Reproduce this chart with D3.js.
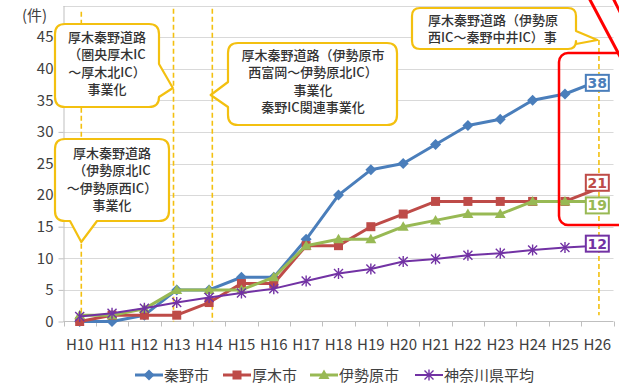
<!DOCTYPE html>
<html><head><meta charset="utf-8">
<script src="https://cdn.jsdelivr.net/npm/d3@7/dist/d3.min.js"></script>
<style>
html,body{margin:0;padding:0;background:#fff;}
svg{display:block;font-family:"Noto Sans CJK JP","Noto Sans",sans-serif;}
</style></head>
<body><svg id="c" width="619" height="384"></svg>
<script>
const years = [10,11,12,13,14,15,16,17,18,19,20,21,22,23,24,25,26];
const yearLabels = years.map(d => "H" + d);
const yTicks = [0,5,10,15,20,25,30,35,40,45];
const seriesNames = ["秦野市","厚木市","伊勢原市","神奈川県平均"];
const hadano  = [0,0,1,5,5,7,7,13,20,24,25,28,31,32,35,36,38];
const atsugi  = [0,1,1,1,3,6,6,12,12,15,17,19,19,19,19,19,21];
const isehara = [1,1,2,5,5,5,7,12,13,13,15,16,17,17,19,19,19];
const kanagawa = [0.8,1.3,2.1,3.0,3.8,4.5,5.2,6.4,7.6,8.3,9.5,9.9,10.5,10.8,11.3,11.7,12];
const eventYears = [10.05, 12.9, 14.1, 26.05];
const calloutTexts = [
  ["厚木秦野道路","（圏央厚木IC","～厚木北IC）","事業化"],
  ["厚木秦野道路","（伊勢原北IC","～伊勢原西IC）","事業化"],
  ["厚木秦野道路（伊勢原市","西富岡～伊勢原北IC）","事業化","秦野IC関連事業化"],
  ["厚木秦野道路（伊勢原","西IC～秦野中井IC）事"]
];

const svg = d3.select("#c");
const x = d3.scaleLinear().domain([9.5, 26.5]).range([63.5, 613.5]);
const y = d3.scaleLinear().domain([0, 50]).range([321.5, 5.5]);
const gold = "#F3C010";
const textCol = "#404040";

// gridlines
svg.append("g").selectAll("line").data(d3.range(5, 51, 5)).join("line")
  .attr("x1", x(9.5)).attr("x2", x(26.5))
  .attr("y1", d => Math.round(y(d)) + 0.5).attr("y2", d => Math.round(y(d)) + 0.5)
  .attr("stroke", "#d9d9d9").attr("stroke-width", 1);

// y axis
const yAxis = d3.axisLeft(y).tickValues(yTicks).tickSize(5).tickSizeOuter(0).tickPadding(6);
const gy = svg.append("g").attr("transform", `translate(${x(9.5)},0)`).call(yAxis);
gy.select(".domain").attr("stroke", "#bfbfbf");
gy.selectAll(".tick line").attr("stroke", "#bfbfbf");
gy.selectAll(".tick text").attr("font-size", 15).attr("fill", textCol)
  .attr("font-family", '"Noto Sans CJK JP",sans-serif').attr("x", -10);

// x axis
const gx = svg.append("g").attr("transform", `translate(0,${y(0)})`);
gx.append("line").attr("x1", x(9.5)).attr("x2", x(26.5)).attr("stroke", "#bfbfbf");
gx.selectAll("line.tk").data(d3.range(9.5, 27, 1)).join("line").attr("class","tk")
  .attr("x1", d => Math.round(x(d)) + 0.5).attr("x2", d => Math.round(x(d)) + 0.5)
  .attr("y1", 0).attr("y2", 5).attr("stroke", "#bfbfbf");
gx.selectAll("text").data(years).join("text")
  .attr("x", d => x(d)).attr("y", 28).attr("text-anchor", "middle")
  .attr("font-size", 15).attr("fill", textCol).text((d, i) => yearLabels[i]);

svg.append("text").attr("x", 22).attr("y", 21).attr("font-size", 15).attr("fill", textCol).text("(件)");

// event dashed lines
const dashTops = [y(49), y(49.5), y(49.5), 40];
const dashBottoms = [y(0), y(0), y(0), y(1)];
svg.append("g").selectAll("line").data(eventYears).join("line")
  .attr("x1", d => x(d)).attr("x2", d => x(d))
  .attr("y1", (d, i) => dashTops[i]).attr("y2", (d, i) => dashBottoms[i])
  .attr("stroke", gold).attr("stroke-width", 1.6).attr("stroke-dasharray", "5,3");

// series
const colors = ["#4A7EBB", "#BE4B48", "#98B954", "#7232A4"];
const widths = [3, 3, 3, 2];
const dataSets = [hadano, atsugi, isehara, kanagawa];
function marker(g, type, color) {
  if (type === 0) g.append("path").attr("d", "M0,-5.5L5.5,0L0,5.5L-5.5,0Z").attr("fill", color);
  else if (type === 1) g.append("rect").attr("x", -4.5).attr("y", -4.5).attr("width", 9).attr("height", 9).attr("fill", color);
  else if (type === 2) g.append("path").attr("d", "M0,-5.5L5.5,4L-5.5,4Z").attr("fill", color);
  else {
    g.append("path").attr("d", "M-4.5,-4.5L4.5,4.5M-4.5,4.5L4.5,-4.5M0,-5.5L0,5.5")
      .attr("stroke", color).attr("stroke-width", 1.4).attr("fill", "none");
  }
}
const line = d3.line().x((d, i) => x(years[i])).y(d => y(d));
dataSets.forEach((ds, si) => {
  const g = svg.append("g");
  g.append("path").attr("d", line(ds)).attr("fill", "none")
    .attr("stroke", colors[si]).attr("stroke-width", widths[si]).attr("stroke-linejoin", "round");
  ds.forEach((v, i) => {
    if (i === ds.length - 1) return;
    const m = g.append("g").attr("transform", `translate(${x(years[i])},${y(v)})`);
    marker(m, si, colors[si]);
  });
});

// red highlight rectangle
svg.append("rect").attr("x", 559).attr("y", 53).attr("width", 80).attr("height", 172)
  .attr("rx", 9).attr("fill", "none").attr("stroke", "#FF0000").attr("stroke-width", 2.5);
svg.append("line").attr("x1", 589).attr("y1", -2).attr("x2", 623).attr("y2", 62)
  .attr("stroke", "#FF0000").attr("stroke-width", 3);
svg.append("line").attr("x1", 613).attr("y1", -2).attr("x2", 623).attr("y2", 18)
  .attr("stroke", "#FF0000").attr("stroke-width", 3);

// end value labels
const labelOffsets = [1.5, -6, 4, -2];
dataSets.forEach((ds, si) => {
  const v = ds[ds.length - 1];
  const cx = x(26), cy = y(v) + labelOffsets[si];
  svg.append("rect").attr("x", cx - 11.5).attr("y", cy - 8).attr("width", 23).attr("height", 16)
    .attr("fill", "#fff").attr("stroke", colors[si]).attr("stroke-width", 2);
  svg.append("text").attr("x", cx).attr("y", cy + 5).attr("text-anchor", "middle")
    .attr("font-size", 14).attr("font-weight", "bold").attr("fill", colors[si])
    .attr("font-family", '"DejaVu Sans",sans-serif').text(Math.round(v));
});

// callouts
function callout(b) {
  const {x0, y0, x1, y1, r, side, a, c, tip} = b;
  let p = `M${x0 + r},${y0}L${x1 - r},${y0}Q${x1},${y0} ${x1},${y0 + r}`;
  if (side === "right") p += `L${x1},${a}L${tip[0]},${tip[1]}L${x1},${c}`;
  p += `L${x1},${y1 - r}Q${x1},${y1} ${x1 - r},${y1}`;
  if (side === "bottom") p += `L${c},${y1}L${tip[0]},${tip[1]}L${a},${y1}`;
  p += `L${x0 + r},${y1}Q${x0},${y1} ${x0},${y1 - r}`;
  if (side === "left") p += `L${x0},${c}L${tip[0]},${tip[1]}L${x0},${a}`;
  p += `L${x0},${y0 + r}Q${x0},${y0} ${x0 + r},${y0}Z`;
  return p;
}
const boxes = [
  {x0: 55, y0: 24, x1: 159, y1: 107, r: 10, side: "right", a: 64, c: 97, tip: [x(12.88), 88], tx: 107, ty0: 42, anchor: "middle"},
  {x0: 55, y0: 139, x1: 169, y1: 221, r: 10, side: "bottom", a: 70, c: 97, tip: [x(10.05), 242], tx: 112, ty0: 158, anchor: "middle"},
  {x0: 228, y0: 43, x1: 397, y1: 125, r: 10, side: "left", a: 82, c: 107, tip: [x(14.05), 95], tx: 313, ty0: 60, anchor: "middle"},
  {x0: 412, y0: 8, x1: 576, y1: 49, r: 8, side: "right", a: 31, c: 44, tip: [x(26), 40], tx: 428, ty0: 25, anchor: "start"}
];
boxes.forEach((b, bi) => {
  svg.append("path").attr("d", callout(b)).attr("fill", "#fff")
    .attr("stroke", gold).attr("stroke-width", 2.2).attr("stroke-linejoin", "round");
  const t = svg.append("text").attr("x", b.tx).attr("y", b.ty0).attr("text-anchor", b.anchor)
    .attr("font-size", 13).attr("font-weight", 500).attr("fill", "#333");
  calloutTexts[bi].forEach((s, li) => {
    t.append("tspan").attr("x", b.tx).attr("dy", li === 0 ? 0 : 17.3).text(s);
  });
});

// legend
const legX = [135, 223, 310, 415];
const leg = svg.append("g").attr("transform", "translate(0,375)");
seriesNames.forEach((n, i) => {
  const g = leg.append("g").attr("transform", `translate(${legX[i]},0)`);
  g.append("line").attr("x1", 0).attr("x2", 28).attr("stroke", colors[i]).attr("stroke-width", widths[i]);
  const m = g.append("g").attr("transform", "translate(14,0)");
  marker(m, i, colors[i]);
  g.append("text").attr("x", 29).attr("y", 5.5).attr("font-size", 15).attr("fill", textCol).text(n);
});
</script></body></html>
